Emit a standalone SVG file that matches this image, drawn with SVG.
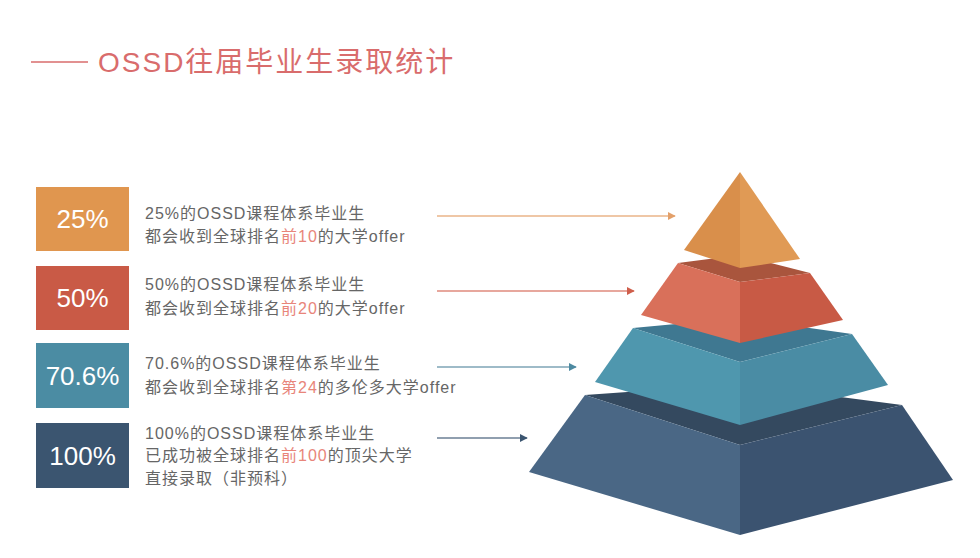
<svg xmlns="http://www.w3.org/2000/svg" width="980" height="558" viewBox="0 0 980 558">
<defs>
<style>
.title{font-family:"Liberation Sans","Noto Sans CJK SC",sans-serif;font-size:28px;fill:#d96c6c;letter-spacing:2px}
.pct{font-family:"Liberation Sans","Noto Sans CJK SC",sans-serif;font-size:26px;fill:#ffffff;text-anchor:middle}
.desc{font-family:"Liberation Sans","Noto Sans CJK SC",sans-serif;font-size:16px;fill:#666666;letter-spacing:1px}
.hl{fill:#e8857a}
.conn{stroke-width:1.5;fill:none}
</style>
<marker id="a1" viewBox="0 0 10 10" refX="9" refY="5" markerWidth="8" markerHeight="8" markerUnits="userSpaceOnUse" orient="auto"><path d="M0,0 L10,5 L0,10 z" fill="#e3a06a"/></marker>
<marker id="a2" viewBox="0 0 10 10" refX="9" refY="5" markerWidth="8" markerHeight="8" markerUnits="userSpaceOnUse" orient="auto"><path d="M0,0 L10,5 L0,10 z" fill="#cf5e4b"/></marker>
<marker id="a3" viewBox="0 0 10 10" refX="9" refY="5" markerWidth="8" markerHeight="8" markerUnits="userSpaceOnUse" orient="auto"><path d="M0,0 L10,5 L0,10 z" fill="#4d8aa1"/></marker>
<marker id="a4" viewBox="0 0 10 10" refX="9" refY="5" markerWidth="8" markerHeight="8" markerUnits="userSpaceOnUse" orient="auto"><path d="M0,0 L10,5 L0,10 z" fill="#3b5570"/></marker>
</defs>
<rect width="980" height="558" fill="#ffffff"/>

<g id="title">
<line x1="31" y1="62" x2="88" y2="62" stroke="#d96c6c" stroke-width="1.5"/>
<text class="title" x="98" y="72">OSSD往届毕业生录取统计</text>
</g>

<g id="item1">
<rect x="36" y="187" width="93" height="64" fill="#e0964f"/>
<text class="pct" x="82.5" y="228">25%</text>
<text class="desc" x="145" y="219">25%的OSSD课程体系毕业生</text>
<text class="desc" x="145" y="242">都会收到全球排名<tspan class="hl">前10</tspan>的大学offer</text>
</g>
<g id="item2">
<rect x="36" y="266" width="93" height="64" fill="#c95a46"/>
<text class="pct" x="82.5" y="307">50%</text>
<text class="desc" x="145" y="290">50%的OSSD课程体系毕业生</text>
<text class="desc" x="145" y="314">都会收到全球排名<tspan class="hl">前20</tspan>的大学offer</text>
</g>
<g id="item3">
<rect x="36" y="343" width="93" height="65" fill="#4b8ca3"/>
<text class="pct" x="82.5" y="385">70.6%</text>
<text class="desc" x="145" y="369">70.6%的OSSD课程体系毕业生</text>
<text class="desc" x="145" y="393">都会收到全球排名<tspan class="hl">第24</tspan>的多伦多大学offer</text>
</g>
<g id="item4">
<rect x="36" y="423" width="93" height="65" fill="#3b5570"/>
<text class="pct" x="82.5" y="465">100%</text>
<text class="desc" x="145" y="439">100%的OSSD课程体系毕业生</text>
<text class="desc" x="145" y="461">已成功被全球排名<tspan class="hl">前100</tspan>的顶尖大学</text>
<text class="desc" x="145" y="484">直接录取（非预科）</text>
</g>

<g id="connectors">
<line class="conn" x1="437" y1="216" x2="675" y2="216" stroke="#eab489" marker-end="url(#a1)"/>
<line class="conn" x1="437" y1="291" x2="634" y2="291" stroke="#df8a7c" marker-end="url(#a2)"/>
<line class="conn" x1="437" y1="367" x2="576" y2="367" stroke="#7ea5b6" marker-end="url(#a3)"/>
<line class="conn" x1="437" y1="438" x2="527" y2="438" stroke="#6b7f95" marker-end="url(#a4)"/>
</g>

<g id="pyramid">
<g id="layer4">
<polygon points="585,395 740,384 902,405 740,445" fill="#34495f"/>
<polygon points="585,395 740,445 740,535 529,472" fill="#4a6785"/>
<polygon points="740,445 902,405 953,480 740,535" fill="#3b5370"/>
</g>
<g id="layer3">
<polygon points="633,328 740,318 852,334 740,362" fill="#3f7891"/>
<polygon points="633,328 740,362 740,425 595,382" fill="#4f97ae"/>
<polygon points="740,362 852,334 888,385 740,425" fill="#4a8ca4"/>
</g>
<g id="layer2">
<polygon points="678,263 740,255 810,273 740,282" fill="#a9553d"/>
<polygon points="678,263 740,282 740,343 641,315" fill="#d9705a"/>
<polygon points="740,282 810,273 843,320 740,343" fill="#c85a45"/>
</g>
<g id="layer1">
<polygon points="740,172 684,250 740,268" fill="#d98f4b"/>
<polygon points="740,172 740,268 800,259" fill="#e09a55"/>
</g>
</g>
</svg>
